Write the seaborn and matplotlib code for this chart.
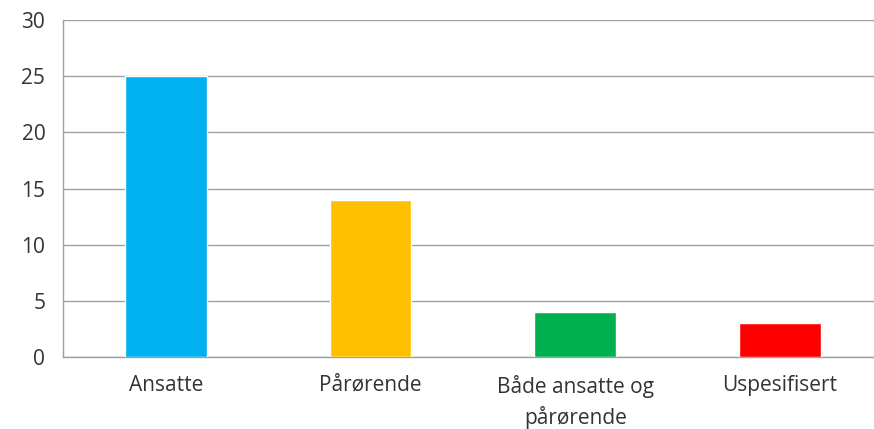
import pandas as pd
import seaborn as sns
import matplotlib.pyplot as plt

categories = ["Ansatte", "Pårørende", "Både ansatte og\npårørende", "Uspesifisert"]
values = [25, 14, 4, 3]
colors = ["#00B0F0", "#FFC000", "#00B050", "#FF0000"]

data = pd.DataFrame({"kategori": categories, "antall": values})

sns.set_style("white")
plt.rcParams["font.family"] = ["Open Sans", "DejaVu Sans"]

fig = plt.figure(figsize=(8.74, 4.29), dpi=100)
ax = fig.add_axes([0.0725, 0.168, 0.937, 0.785])

sns.barplot(data=data, x="kategori", y="antall", hue="kategori",
            palette=colors, legend=False, width=0.40, saturation=1, ax=ax, zorder=3)

ax.set_ylim(0, 30)
ax.set_yticks(range(0, 31, 5))
ax.yaxis.grid(True, color="#a0a0a0", linewidth=1, zorder=0)
ax.set_axisbelow(True)
ax.set_xlabel("")
ax.set_ylabel("")
for side in ["top", "right"]:
    ax.spines[side].set_visible(False)
for side in ["left", "bottom"]:
    ax.spines[side].set_color("#a0a0a0")
    ax.spines[side].set_linewidth(1)
ax.tick_params(axis="both", length=0, labelsize=15, colors="#333333")
ax.tick_params(axis="y", pad=13)
ax.tick_params(axis="x", pad=13)
for lbl in ax.get_xticklabels():
    lbl.set_linespacing(1.45)

fig.savefig("out.png", dpi=100)
